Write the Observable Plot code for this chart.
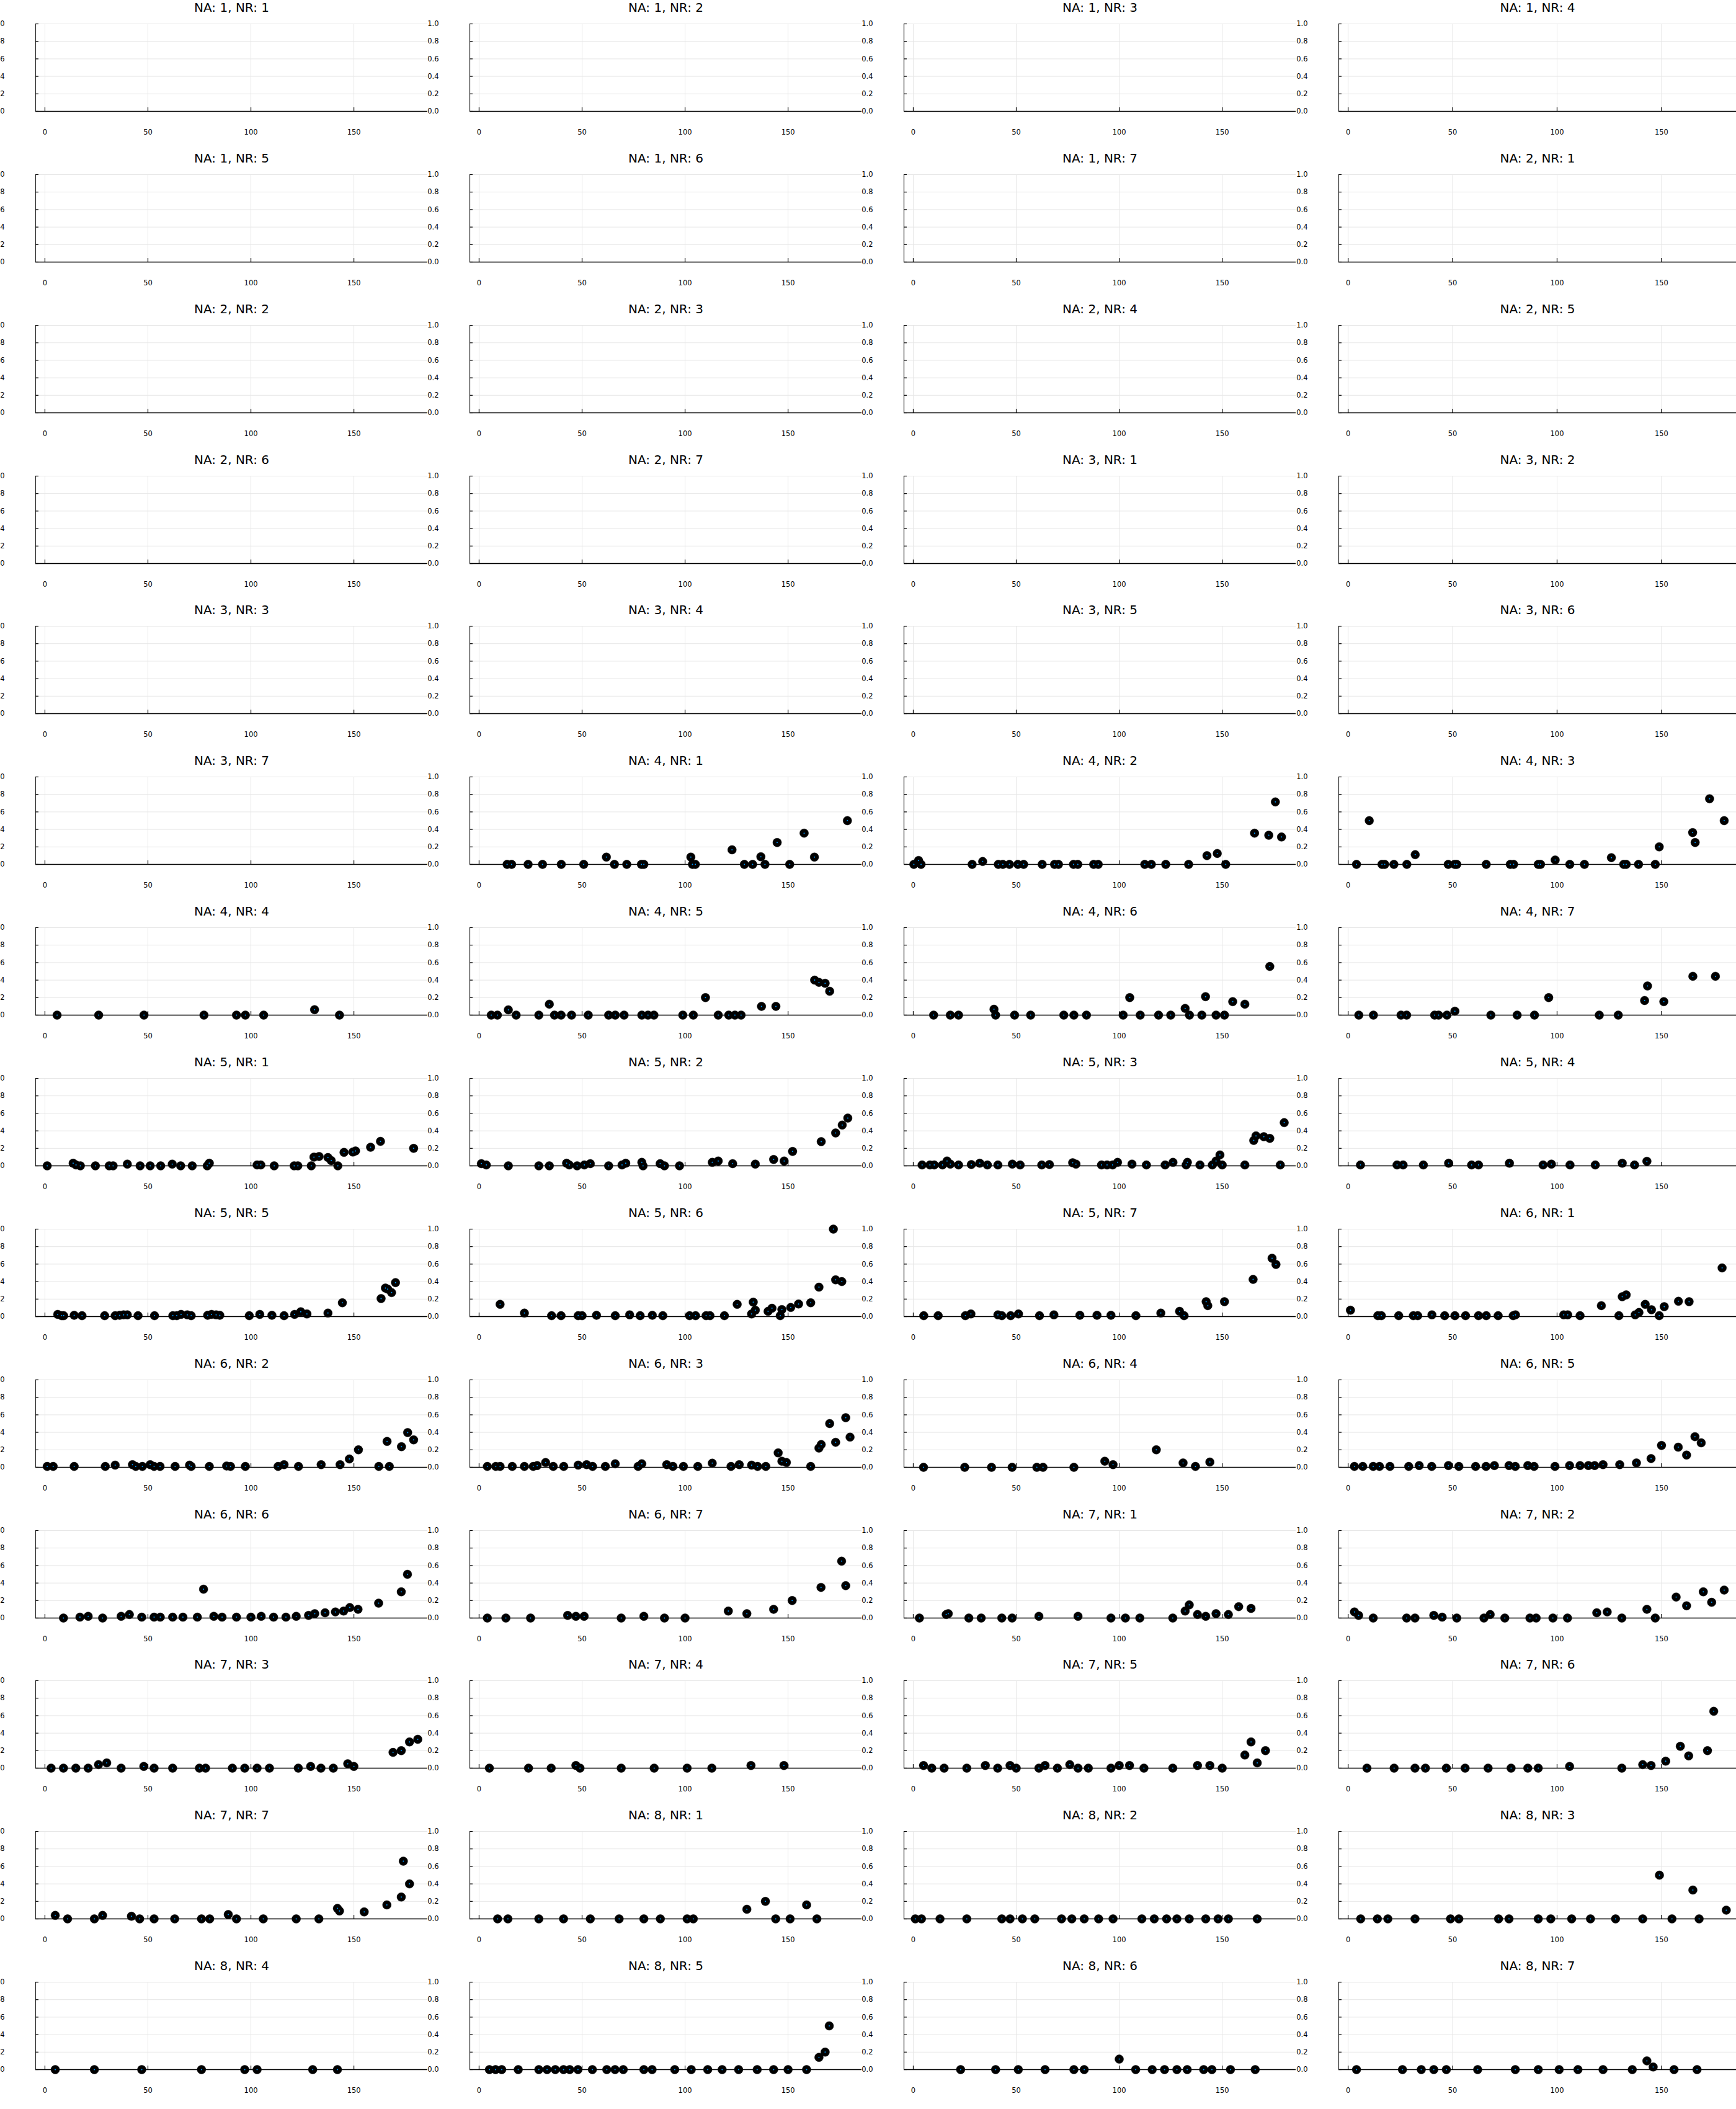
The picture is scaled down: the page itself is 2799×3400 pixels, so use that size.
<!DOCTYPE html>
<html><head><meta charset="utf-8">
<script src="https://cdn.jsdelivr.net/npm/d3@7"></script>
<script src="https://cdn.jsdelivr.net/npm/@observablehq/plot@0.6"></script>
<style>
html,body{margin:0;padding:0;background:#fff;}
#root{position:relative;width:2799px;height:3400px;overflow:hidden;background:#fff;}
.panel{position:absolute;}
</style>
</head><body><div id="root"></div>
<script>
// ---- categories / ticks ----
const NA = [1, 2, 3, 4, 5, 6, 7, 8];
const NR = [1, 2, 3, 4, 5, 6, 7];
const X_TICKS = [0, 50, 100, 150];
const Y_TICKS = [0, 0.2, 0.4, 0.6, 0.8, 1.0];
const X_DOMAIN = [-4.5, 185.8];

// ---- series values [x, y] ----
const na4_nr1 = [[13.6,0],[15.8,0],[23.8,0],[30.8,0],[39.9,0],[50.8,0],[61.8,0.083],[65.7,0],[71.7,0],[78.8,0],[80,0],[102.8,0.083],[103.6,0],[105,0],[122.8,0.167],[128.8,0],[132.8,0],[136.8,0.087],[138.8,0],[144.7,0.25],[150.8,0],[157.8,0.357],[162.8,0.083],[178.8,0.5]];
const na4_nr2 = [[0.3,0],[2.6,0.045],[3.8,0],[28.6,0],[33.7,0.033],[41.3,0],[43.5,0],[46.7,0],[50.8,0],[53.6,0],[62.6,0],[68.6,0],[70.5,0],[77.8,0],[79.9,0],[87.6,0],[89.8,0],[112.4,0],[115.6,0],[122.6,0],[133.7,0],[142.6,0.1],[147.6,0.125],[151.7,0],[165.7,0.357],[172.6,0.333],[175.8,0.714],[178.8,0.313]];
const na4_nr3 = [[4,0],[10.1,0.5],[16.2,0],[17.5,0],[21.9,0],[28.1,0],[32.1,0.111],[47.9,0],[51,0],[52,0],[66.1,0],[77.6,0],[79.2,0],[91,0],[92.1,0],[99.1,0.05],[106.1,0],[113.1,0],[126,0.077],[131.9,0],[133.1,0],[139,0],[147,0],[148.9,0.2],[164.9,0.364],[166.1,0.25],[173,0.75],[180,0.5]];
const na4_nr4 = [[5.9,0],[26.1,0],[48.1,0],[77.2,0],[93,0],[97.3,0],[106.2,0],[130.9,0.062],[143,0]];
const na4_nr5 = [[5.9,0],[8.9,0],[14.2,0.06],[18,0],[29,0],[34.1,0.125],[36.6,0],[39.8,0],[44.9,0],[53,0],[62.9,0],[66.1,0],[70.4,0],[79,0],[82,0],[84.9,0],[98.9,0],[104,0],[109.9,0.2],[116.1,0],[121.2,0],[124.2,0],[127.2,0],[137.1,0.1],[144.1,0.1],[162.9,0.4],[165,0.375],[168,0.364],[170.2,0.273]];
const na4_nr6 = [[9.9,0],[18,0],[22,0],[39.2,0.067],[40,0],[49.2,0],[57,0],[73.1,0],[78,0],[84.1,0],[101.9,0],[105.1,0.2],[110.2,0],[119.1,0],[125,0],[132,0.077],[134.1,0],[140.1,0],[141.9,0.211],[147,0],[151.1,0],[155.1,0.154],[161,0.125],[173.1,0.556]];
const na4_nr7 = [[5.1,0],[12.1,0],[25.3,0],[28,0],[41.4,0],[43.3,0],[47.3,0],[51.1,0.045],[68.3,0],[80.9,0],[89.2,0],[96,0.2],[120.2,0],[129.3,0],[141.9,0.167],[143.3,0.333],[151.1,0.154],[165,0.444],[175.8,0.444]];
const na5_nr1 = [[1.1,0],[13.7,0.03],[15.1,0.01],[17.2,0],[24.5,0],[31.2,0],[33.1,0],[40,0.02],[46.2,0],[51.1,0],[56.2,0],[61.8,0.02],[65.9,0],[71.5,0],[78.8,0],[79.8,0.03],[103,0.01],[104.8,0.01],[111.3,0],[121,0],[122.8,0],[129.3,0],[130.6,0.1],[133.1,0.107],[137.4,0.095],[139,0.06],[142.2,0],[145.2,0.154],[149.5,0.158],[150.8,0.17],[158.1,0.213],[162.9,0.28],[179,0.2]];
const na5_nr2 = [[1.1,0.025],[3.5,0.01],[14.2,0],[29,0],[34.1,0],[42.5,0.03],[43.8,0.01],[47.6,0],[51.1,0.01],[54,0.025],[62.9,0],[69.4,0.01],[71.2,0.03],[79,0.04],[79.6,0],[87.9,0.025],[90,0],[97.3,0],[113.2,0.04],[116.1,0.055],[123.1,0.025],[134.1,0.02],[143,0.073],[148.1,0.055],[152.2,0.165],[166.1,0.277],[173.1,0.376],[176.3,0.466],[179,0.546]];
const na5_nr3 = [[4.3,0.01],[8.1,0.01],[10.2,0.01],[14.2,0.01],[16.4,0.055],[18,0.02],[22,0.01],[28.2,0.015],[32.3,0.03],[36,0.01],[41.1,0.01],[48.1,0.02],[51.9,0.01],[62.4,0.01],[66.1,0.015],[77.4,0.035],[79,0.02],[91.4,0.01],[94.1,0.01],[96.8,0.01],[99.2,0.04],[106.2,0.02],[113.2,0.01],[122.3,0.01],[126.1,0.04],[132.5,0.01],[133.1,0.04],[139.2,0.01],[145.2,0.01],[147,0.055],[148.9,0.125],[150,0.01],[161,0.01],[165.3,0.29],[166.4,0.343],[170.2,0.333],[173.1,0.314],[178.2,0.01],[180.1,0.494]];
const na5_nr4 = [[5.9,0.01],[23.4,0.01],[26.3,0.01],[36,0.01],[48.1,0.03],[59.1,0.01],[62.4,0.01],[77.2,0.03],[93.3,0.01],[97.3,0.02],[106.2,0.01],[118.3,0.01],[131.2,0.03],[137.1,0.01],[143,0.052]];
const na5_nr5 = [[6.2,0.025],[8.1,0.01],[9.1,0.01],[14.2,0.015],[18,0.01],[29,0.01],[34.1,0.01],[36.3,0.015],[38.2,0.02],[40,0.02],[45.2,0.01],[53.2,0.01],[62.1,0.01],[64,0.01],[66.1,0.025],[69.1,0.02],[71,0.01],[79,0.015],[80.9,0.025],[83.1,0.02],[84.9,0.015],[99.2,0.01],[104.3,0.025],[110.2,0.015],[116.1,0.01],[121.2,0.025],[124.2,0.055],[127.2,0.03],[137.4,0.04],[144.4,0.158],[163.2,0.206],[165.3,0.326],[166.4,0.314],[168.3,0.274],[170.2,0.388]];
const na5_nr6 = [[10.2,0.14],[22,0.04],[35.2,0.01],[39.8,0.01],[48.1,0.01],[50,0.01],[57,0.015],[66.1,0.01],[73.1,0.02],[78.2,0.01],[84.1,0.015],[89.2,0.01],[102.2,0.01],[105.1,0.01],[110.2,0.01],[112.1,0.01],[119.1,0.01],[125.3,0.14],[132.3,0.03],[133.1,0.165],[134.1,0.073],[140.3,0.06],[142.2,0.095],[146.2,0.01],[147,0.08],[151.3,0.104],[155.1,0.144],[161,0.158],[165,0.336],[172,1.0],[173.1,0.42],[176.1,0.4]];
const na5_nr7 = [[5.1,0.01],[12.1,0.01],[25.3,0.01],[28,0.03],[41.1,0.02],[43,0.01],[47.3,0.01],[51.1,0.03],[61.3,0.01],[68.3,0.02],[80.9,0.015],[89.2,0.015],[96,0.015],[108.1,0.01],[120.2,0.04],[129.3,0.06],[131.5,0.01],[142.2,0.17],[143,0.125],[151.1,0.17],[165,0.425],[174.2,0.667],[176.1,0.596]];
const na6_nr1 = [[1.1,0.073],[14.2,0.01],[15.9,0.01],[24.2,0.01],[31.2,0.01],[33.3,0.01],[40.1,0.02],[46.2,0.01],[51.1,0.01],[56.2,0.01],[62.4,0.01],[66.1,0.01],[71.8,0.01],[79,0.01],[80.1,0.02],[103.2,0.02],[105.1,0.02],[111,0.01],[121.2,0.125],[129.6,0.01],[131.2,0.227],[133.1,0.248],[137.4,0.02],[139.2,0.047],[142.2,0.14],[145.2,0.078],[148.9,0.01],[151.3,0.113],[158.1,0.175],[163.2,0.17],[179,0.556]];
const na6_nr2 = [[1.1,0.01],[4,0.01],[14.2,0.01],[29.3,0.01],[34.1,0.025],[42.5,0.03],[44.1,0.01],[47.3,0.01],[51.1,0.03],[53,0.01],[55.9,0.01],[63.2,0.01],[70.2,0.025],[71,0.01],[79.8,0.01],[88.2,0.015],[90.1,0.01],[97.3,0.01],[113.2,0.01],[116.1,0.03],[123.1,0.01],[134.1,0.03],[143.3,0.03],[147.8,0.095],[152.2,0.2],[162.1,0.01],[166.1,0.296],[167.2,0.01],[173.1,0.236],[176.1,0.397],[179,0.314]];
const na6_nr3 = [[4,0.01],[8.1,0.01],[10.2,0.01],[16.1,0.01],[22,0.01],[26.3,0.01],[28.2,0.02],[32.3,0.055],[36,0.01],[41.1,0.01],[48.1,0.025],[52.2,0.03],[55.1,0.01],[61.3,0.01],[66.1,0.04],[77.2,0.01],[79,0.04],[91.1,0.03],[94.1,0.01],[99.2,0.01],[106.2,0.01],[113.2,0.047],[122.3,0.01],[126.3,0.03],[132.3,0.025],[135.2,0.01],[139.2,0.01],[145.2,0.165],[147,0.07],[149.2,0.055],[161,0.01],[165,0.22],[166.1,0.26],[170.2,0.5],[173.1,0.286],[178,0.567],[180.1,0.345]];
const na6_nr4 = [[5,0],[25,0],[38,0],[48,0],[60,0],[63,0],[78,0],[93,0.07],[97,0.03],[118,0.2],[131,0.05],[137,0.01],[144,0.06]];
const na6_nr5 = [[3,0.01],[7,0.01],[12,0.01],[15,0.01],[20,0.01],[29,0.01],[34,0.02],[40,0.01],[48,0.02],[53,0.01],[61,0.01],[66,0.01],[70,0.02],[77,0.02],[80,0.01],[86,0.02],[89,0.01],[99,0.01],[106,0.02],[111,0.02],[115,0.02],[118,0.02],[122,0.03],[130,0.03],[138,0.05],[145,0.1],[150,0.25],[158,0.23],[162,0.14],[166,0.35],[169,0.28]];
const na6_nr6 = [[9,0],[17,0.01],[21,0.02],[28,0],[37,0.02],[41,0.04],[47,0.01],[53,0.01],[56,0.01],[62,0.01],[67,0.01],[74,0.01],[77,0.33],[82,0.02],[86,0.01],[93,0.01],[100,0.01],[105,0.02],[111,0.01],[117,0.01],[122,0.02],[128,0.03],[131,0.05],[136,0.06],[141,0.07],[145,0.08],[148,0.12],[152,0.1],[162,0.17],[173,0.3],[176,0.5]];
const na6_nr7 = [[4,0],[13,0],[25,0],[43,0.03],[47,0.02],[51,0.02],[69,0],[80,0.02],[90,0],[100,0],[121,0.08],[130,0.05],[143,0.1],[152,0.2],[166,0.35],[176,0.65],[178,0.37]];
const na7_nr1 = [[3,0],[16,0.04],[17,0.05],[27,0],[33,0],[43,0],[48,0],[61,0.02],[80,0.02],[96,0],[103,0],[110,0],[126,0],[132,0.08],[134,0.15],[138,0.04],[142,0.02],[147,0.05],[153,0.04],[158,0.13],[164,0.11]];
const na7_nr2 = [[3,0.07],[5,0.03],[12,0],[28,0],[32,0],[41,0.03],[45,0.01],[52,0],[65,0],[68,0.04],[75,0],[87,0],[90,0],[98,0],[105,0],[119,0.06],[124,0.07],[131,0],[143,0.1],[147,0],[157,0.24],[162,0.14],[170,0.3],[174,0.18],[180,0.32]];
const na7_nr3 = [[3,0],[9,0],[15,0],[21,0],[26,0.04],[30,0.06],[37,0],[48,0.02],[53,0],[62,0],[75,0],[78,0],[91,0],[97,0],[103,0],[109,0],[123,0],[129,0.02],[134,0],[140,0],[147,0.05],[150,0.02],[169,0.18],[173,0.2],[177,0.3],[181,0.33]];
const na7_nr4 = [[5,0],[24,0],[35,0],[47,0.03],[49,0],[69,0],[85,0],[101,0],[113,0],[132,0.03],[148,0.03]];
const na7_nr5 = [[5,0.03],[9,0],[15,0],[26,0],[35,0.03],[41,0],[47,0.03],[50,0],[61,0],[64,0.03],[70,0],[76,0.04],[80,0],[85,0],[96,0],[100,0.03],[105,0.03],[112,0],[126,0],[138,0.03],[144,0.03],[150,0],[161,0.15],[164,0.3],[167,0.06],[171,0.2]];
const na7_nr6 = [[9,0],[22,0],[32,0],[37,0],[47,0],[56,0],[67,0],[78,0],[86,0],[91,0],[106,0.02],[131,0],[141,0.04],[145,0.03],[152,0.08],[159,0.25],[163,0.14],[172,0.2],[175,0.65]];
const na7_nr7 = [[5,0.04],[11,0],[24,0],[28,0.04],[42,0.03],[46,0],[53,0],[63,0],[76,0],[80,0],[89,0.05],[93,0],[106,0],[122,0],[133,0],[142,0.12],[143,0.09],[155,0.08],[166,0.16],[173,0.25],[174,0.66],[177,0.4]];
const na8_nr1 = [[9,0],[14,0],[29,0],[41,0],[54,0],[68,0],[80,0],[88,0],[101,0],[104,0],[130,0.11],[139,0.2],[144,0],[151,0],[159,0.16],[164,0]];
const na8_nr2 = [[1,0],[4,0],[13,0],[26,0],[43,0],[47,0],[53,0],[59,0],[72,0],[77,0],[83,0],[90,0],[97,0],[111,0],[117,0],[123,0],[128,0],[134,0],[142,0],[148,0],[153,0],[167,0]];
const na8_nr3 = [[6,0],[14,0],[19,0],[32,0],[49,0],[53,0],[72,0],[77,0],[91,0],[97,0],[107,0],[116,0],[128,0],[141,0],[149,0.5],[155,0],[165,0.33],[168,0],[181,0.1]];
const na8_nr4 = [[5,0],[24,0],[47,0],[76,0],[97,0],[103,0],[130,0],[142,0]];
const na8_nr5 = [[5,0],[8,0],[11,0],[19,0],[29,0],[33,0],[37,0],[41,0],[44,0],[48,0],[55,0],[62,0],[66,0],[70,0],[80,0],[84,0],[95,0],[103,0],[111,0],[118,0],[126,0],[135,0],[143,0],[150,0],[159,0],[165,0.14],[168,0.2],[170,0.5]];
const na8_nr6 = [[23,0],[40,0],[51,0],[64,0],[78,0],[83,0],[100,0.12],[108,0],[116,0],[122,0],[128,0],[133,0],[141,0],[145,0],[154,0],[166,0]];
const na8_nr7 = [[4,0],[26,0],[35,0],[41,0],[47,0],[62,0],[80,0],[91,0],[101,0],[110,0],[122,0],[136,0],[143,0.1],[146,0.03],[156,0],[167,0]];

const SERIES = new Map([
  ["4-1", na4_nr1], ["4-2", na4_nr2], ["4-3", na4_nr3], ["4-4", na4_nr4], ["4-5", na4_nr5], ["4-6", na4_nr6], ["4-7", na4_nr7],
  ["5-1", na5_nr1], ["5-2", na5_nr2], ["5-3", na5_nr3], ["5-4", na5_nr4], ["5-5", na5_nr5], ["5-6", na5_nr6], ["5-7", na5_nr7],
  ["6-1", na6_nr1], ["6-2", na6_nr2], ["6-3", na6_nr3], ["6-4", na6_nr4], ["6-5", na6_nr5], ["6-6", na6_nr6], ["6-7", na6_nr7],
  ["7-1", na7_nr1], ["7-2", na7_nr2], ["7-3", na7_nr3], ["7-4", na7_nr4], ["7-5", na7_nr5], ["7-6", na7_nr6], ["7-7", na7_nr7],
  ["8-1", na8_nr1], ["8-2", na8_nr2], ["8-3", na8_nr3], ["8-4", na8_nr4], ["8-5", na8_nr5], ["8-6", na8_nr6], ["8-7", na8_nr7]
]);

const panels = [];
for (const a of NA) for (const r of NR) {
  panels.push({title: `NA: ${a}, NR: ${r}`, data: (SERIES.get(`${a}-${r}`) || []).map(([x, y]) => ({x, y}))});
}

const root = document.getElementById("root");
const ROW_H = 3400 / 14;
const FONT = "DejaVu Sans";
panels.forEach((p, i) => {
  const row = Math.floor(i / 4), col = i % 4;
  const last = col === 3;
  const W = last ? 699 : 700, H = 243;
  const mL = last ? 58 : 57, mR = last ? 0 : 11, mT = 38, mB = 64;
  const plotW = W - mL - mR, plotH = H - mT - mB;
  const chart = Plot.plot({
    width: W, height: H,
    marginTop: mT, marginBottom: mB, marginLeft: mL, marginRight: mR,
    x: {domain: X_DOMAIN}, y: {domain: [0, 1]},
    style: {background: "transparent", overflow: "visible", maxWidth: "none", fontFamily: FONT, color: "#000"},
    marks: [
      Plot.gridX(X_TICKS, {stroke: "#e6e6e6", strokeOpacity: 1, strokeWidth: 1}),
      Plot.gridY(Y_TICKS.filter(d => d > 0), {stroke: "#e6e6e6", strokeOpacity: 1, strokeWidth: 1}),
      Plot.ruleX([X_DOMAIN[0]], {stroke: "#222", strokeWidth: 1.2}),
      Plot.ruleY([0], {stroke: "#000", strokeWidth: 1.6}),
      Plot.tickX(X_TICKS, {x: d => d, insetTop: plotH - 6, stroke: "#000", strokeWidth: 1.2}),
      Plot.tickY(Y_TICKS, {y: d => d, insetRight: plotW - 5, stroke: "#000", strokeWidth: 1.2}),
      Plot.axisX(X_TICKS, {tickSize: 0, tickPadding: 29, fontSize: 11.5, label: null, fill: "#000"}),
      Plot.axisY(Y_TICKS, {tickSize: 0, tickPadding: 50, fontSize: 11.5, label: null, fill: "#000", tickFormat: d => d.toFixed(1)}),
      Plot.text([p.title], {frameAnchor: "top", lineAnchor: "middle", dy: -26, fontSize: 20, fill: "#000"}),
      Plot.dot(p.data, {x: "x", y: "y", r: 7, fill: "#000", stroke: "#000", strokeWidth: 0.5}),
      Plot.dot(p.data, {x: "x", y: "y", r: 1, fill: "#0099ff"})
    ]
  });
  const wrap = document.createElement("div");
  wrap.className = "panel";
  wrap.style.left = (col * 700) + "px";
  wrap.style.top = Math.round(row * ROW_H) + "px";
  wrap.appendChild(chart);
  root.appendChild(wrap);
});
</script>
</body></html>
